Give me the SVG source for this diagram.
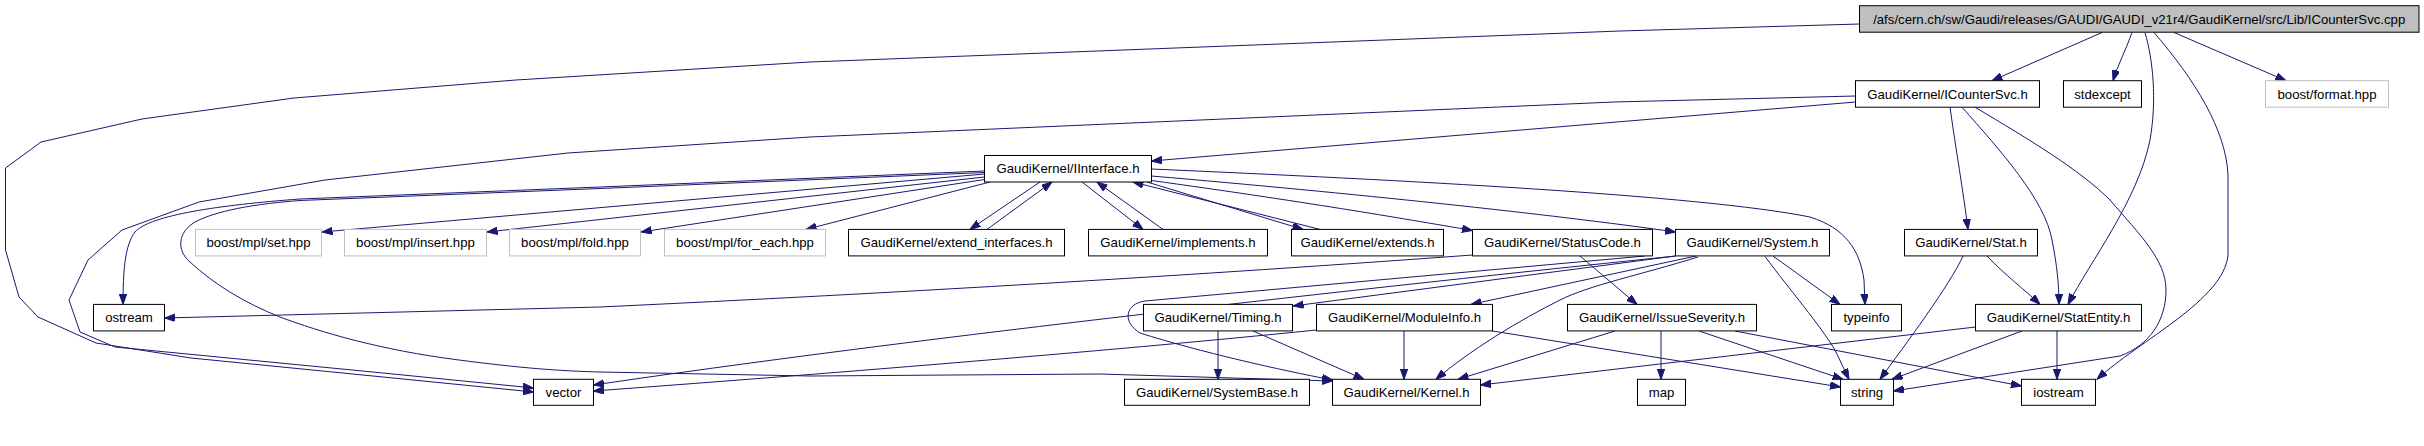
<svg xmlns="http://www.w3.org/2000/svg" width="2424" height="446" viewBox="0 0 2424 446">
<style>
rect{fill:#ffffff;stroke:#000000;stroke-width:1}
.gray rect{stroke:#bfbfbf}
.main rect{fill:#bfbfbf}
text{font-family:"Liberation Sans",Arial,sans-serif;font-size:13.2px;text-anchor:middle;fill:#000000}
#edges path{fill:none;stroke:#191970;stroke-width:1;marker-end:url(#ah)}
</style>
<defs>
<marker id="ah" markerUnits="userSpaceOnUse" markerWidth="11" markerHeight="8" refX="10.5" refY="3.75" orient="auto">
<path d="M0,0 L10.5,3.75 L0,7.5 z" fill="#191970" stroke="#191970" stroke-width="1"/>
</marker>
</defs>
<rect x="0" y="0" width="2424" height="446" style="fill:#ffffff;stroke:none"/>
<g id="edges">
<path d="M2102,32.5 L1992,80.7"/>
<path d="M2132,32.5 C2126,50 2118,64 2113,80.7"/>
<path d="M2174,32.5 L2286,80.7"/>
<path d="M2145,32.5 C2153,60 2157,100 2150,140 C2138,200 2090,262 2068,304.4"/>
<path d="M2154,32.5 C2195,80 2226,130 2228,175 L2228,255 C2224,300 2140,340 2097,379.3"/>
<path d="M1859.5,24 L1620,31 L810,62 L516,80 L294,98 L142,119 L41,142 L5.5,168 L5.5,250 L19,297 L38,317 L96,343 L191,358 L383,377 L533.5,392"/>
<path d="M1855.5,96 L1614,102 L810,137 L568,153 L325,180 L199,202 L122,230 L88,260 L69,300 L80,332 L115,347 L383,373 L533.5,388"/>
<path d="M1855.5,102 L1151.5,161"/>
<path d="M1950,107.2 C1956,150 1963,190 1968,229.4"/>
<path d="M1962,107.2 C2000,150 2045,200 2052,240 C2057,265 2059,285 2059,304.4"/>
<path d="M1975,107.2 C2030,140 2080,170 2110,200 C2140,235 2166,260 2166,290 C2166,320 2150,345 2120,356 L1893.5,391"/>
<path d="M1987,256 C2005,275 2025,290 2040,304.4"/>
<path d="M1963,256 C1950,285 1905,345 1880,379.3"/>
<path d="M2022,331 L1892,379.3"/>
<path d="M2057,331 L2057,379.3"/>
<path d="M1975.5,327 L1480.5,385"/>
<path d="M1040,182 L970,229.4"/>
<path d="M987,229.4 L1052,182"/>
<path d="M1082,182 L1143,229.4"/>
<path d="M1163,229.4 L1097,182"/>
<path d="M1147,182 L1303,229.4"/>
<path d="M1320,229.4 L1133,182"/>
<path d="M1151.5,180.5 C1300,201 1400,218 1472.5,230.5"/>
<path d="M1151.5,176 C1350,193 1550,214 1675.5,232"/>
<path d="M1151.5,169 C1400,180 1700,195 1810,217 C1845,228 1860,250 1864,280 L1865,304.4"/>
<path d="M984.5,174 L322,232"/>
<path d="M984.5,177 L487,232"/>
<path d="M984.5,179.5 L641,232"/>
<path d="M990,182 L806,229.4"/>
<path d="M984.5,171 L600,187 L300,199 C220,205 150,215 135,232 C125,245 123,270 123,304.4"/>
<path d="M984.5,172.5 L600,188.5 L300,200.5 C240,205 210,214 195,222 C178,232 176,250 190,262 C215,285 245,303 280,317 C320,332 380,350 459,360 C520,368 560,371 600,372 L810,376 L1100,374 L1332.5,381"/>
<path d="M1472.5,255 C1200,275 900,293 600,307 L164.5,318"/>
<path d="M1580,256 L1637,304.4"/>
<path d="M1645,256 L1145,301 C1125,304 1122,322 1140,333 C1200,352 1280,370 1332.5,380"/>
<path d="M1675.5,256 L1293,306"/>
<path d="M1675.5,256 C1300,295 900,340 593.5,385"/>
<path d="M1696,256 L1471,304.4"/>
<path d="M1698,257 C1640,275 1590,285 1560,300 C1520,320 1470,350 1436,379.3"/>
<path d="M1773,256 L1840,304.4"/>
<path d="M1765,256.5 C1790,290 1820,325 1835,350 L1849,379.3"/>
<path d="M1218,331 L1218,379.3"/>
<path d="M1253,331 L1364,379.3"/>
<path d="M1404,331 L1404,379.3"/>
<path d="M1316.5,330 C1100,352 810,375 593.5,391"/>
<path d="M1492.5,331 L1840.5,387"/>
<path d="M1615,331 L1458,379.3"/>
<path d="M1661,331 L1661,379.3"/>
<path d="M1699,331 L1843,379.3"/>
<path d="M1735,331 L2021.5,386"/>
</g>
<g id="n_main" class="main"><rect x="1859.5" y="5.7" width="559.5" height="26.5"/><text x="2139.2" y="23.6">/afs/cern.ch/sw/Gaudi/releases/GAUDI/GAUDI_v21r4/GaudiKernel/src/Lib/ICounterSvc.cpp</text></g>
<g id="n_icountersvc"><rect x="1855.5" y="80.7" width="184" height="26.5"/><text x="1947.5" y="98.6">GaudiKernel/ICounterSvc.h</text></g>
<g id="n_stdexcept"><rect x="2063.5" y="80.7" width="78" height="26.5"/><text x="2102.5" y="98.6">stdexcept</text></g>
<g id="n_boostformat" class="gray"><rect x="2265.5" y="80.7" width="123" height="26.5"/><text x="2327" y="98.6">boost/format.hpp</text></g>
<g id="n_iinterface"><rect x="984.5" y="155.5" width="167" height="26.5"/><text x="1068" y="173.4">GaudiKernel/IInterface.h</text></g>
<g id="n_mplset" class="gray"><rect x="195.5" y="229.4" width="126" height="26.5"/><text x="258.5" y="247.3">boost/mpl/set.hpp</text></g>
<g id="n_mplinsert" class="gray"><rect x="344.5" y="229.4" width="142" height="26.5"/><text x="415.5" y="247.3">boost/mpl/insert.hpp</text></g>
<g id="n_mplfold" class="gray"><rect x="509.5" y="229.4" width="131" height="26.5"/><text x="575" y="247.3">boost/mpl/fold.hpp</text></g>
<g id="n_mplforeach" class="gray"><rect x="664.5" y="229.4" width="161" height="26.5"/><text x="745" y="247.3">boost/mpl/for_each.hpp</text></g>
<g id="n_extendinterfaces"><rect x="848.5" y="229.4" width="216" height="26.5"/><text x="956.5" y="247.3">GaudiKernel/extend_interfaces.h</text></g>
<g id="n_implements"><rect x="1088.5" y="229.4" width="179" height="26.5"/><text x="1178" y="247.3">GaudiKernel/implements.h</text></g>
<g id="n_extends"><rect x="1291.5" y="229.4" width="152" height="26.5"/><text x="1367.5" y="247.3">GaudiKernel/extends.h</text></g>
<g id="n_statuscode"><rect x="1472.5" y="229.4" width="180" height="26.5"/><text x="1562.5" y="247.3">GaudiKernel/StatusCode.h</text></g>
<g id="n_system"><rect x="1675.5" y="229.4" width="154" height="26.5"/><text x="1752.5" y="247.3">GaudiKernel/System.h</text></g>
<g id="n_stat"><rect x="1904.5" y="229.4" width="133" height="26.5"/><text x="1971" y="247.3">GaudiKernel/Stat.h</text></g>
<g id="n_ostream"><rect x="93.5" y="304.4" width="71" height="26.5"/><text x="129" y="322.3">ostream</text></g>
<g id="n_timing"><rect x="1143.5" y="304.4" width="149" height="26.5"/><text x="1218" y="322.3">GaudiKernel/Timing.h</text></g>
<g id="n_moduleinfo"><rect x="1316.5" y="304.4" width="176" height="26.5"/><text x="1404.5" y="322.3">GaudiKernel/ModuleInfo.h</text></g>
<g id="n_issueseverity"><rect x="1567.5" y="304.4" width="189" height="26.5"/><text x="1662" y="322.3">GaudiKernel/IssueSeverity.h</text></g>
<g id="n_typeinfo"><rect x="1831.5" y="304.4" width="70" height="26.5"/><text x="1866.5" y="322.3">typeinfo</text></g>
<g id="n_statentity"><rect x="1975.5" y="304.4" width="166" height="26.5"/><text x="2058.5" y="322.3">GaudiKernel/StatEntity.h</text></g>
<g id="n_vector"><rect x="533.5" y="379.3" width="60" height="26"/><text x="563.5" y="397.2">vector</text></g>
<g id="n_systembase"><rect x="1124.5" y="379.3" width="185" height="26"/><text x="1217" y="397.2">GaudiKernel/SystemBase.h</text></g>
<g id="n_kernel"><rect x="1332.5" y="379.3" width="148" height="26"/><text x="1406.5" y="397.2">GaudiKernel/Kernel.h</text></g>
<g id="n_map"><rect x="1637.5" y="379.3" width="48" height="26"/><text x="1661.5" y="397.2">map</text></g>
<g id="n_string"><rect x="1840.5" y="379.3" width="53" height="26"/><text x="1867" y="397.2">string</text></g>
<g id="n_iostream"><rect x="2021.5" y="379.3" width="74" height="26"/><text x="2058.5" y="397.2">iostream</text></g>
</svg>
